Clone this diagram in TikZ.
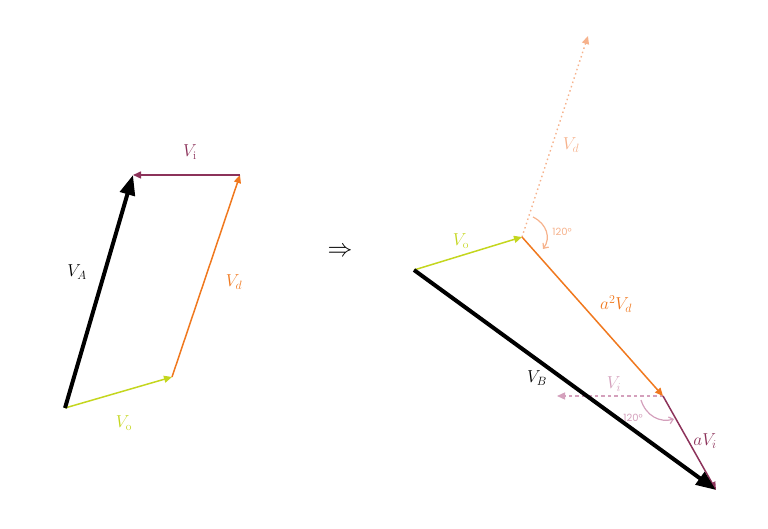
\documentclass[tikz,border=0pt]{standalone}
\usepackage{fontspec}
\newfontfamily\numfont{Poppins}
\usetikzlibrary{arrows.meta}
\definecolor{cgreen}{RGB}{196,214,30}
\definecolor{corange}{RGB}{240,120,30}
\definecolor{cpurple}{RGB}{140,50,90}
\definecolor{clorange}{RGB}{246,178,140}
\definecolor{clpurple}{RGB}{212,160,188}
\tikzset{
  thickvec/.style={line width=4pt,-{Triangle[length=20pt,width=15pt]}},
  thinvec/.style={line width=1.5pt,-{Triangle[length=8pt,width=7pt]}},
  lbl/.style={font=\fontsize{16.5}{18}\selectfont},
  anglbl/.style={font=\numfont\fontsize{10}{11}\selectfont},
}
\begin{document}
\begin{tikzpicture}[x=1pt,y=-1pt]
\useasboundingbox (0,0) rectangle (768,529);
% left diagram
\coordinate (O1) at (65,408);
\coordinate (P1) at (172,377);
\coordinate (Q1) at (240,175);
\coordinate (R1) at (133,175);
\draw[thinvec,cgreen] (O1) -- (P1);
\draw[thinvec,corange] (P1) -- (Q1);
\draw[thinvec,cpurple] (Q1) -- (R1);
\draw[thickvec,black] (O1) -- (R1);
\node[lbl,cpurple] (li1) at (190,152) {$V_{\mathrm{i}}$};
\node[lbl,black] (la) at (77,272) {$V_A$};
\node[lbl,corange] (ld1) at (234,282) {$V_d$};
\node[lbl,cgreen] (lo1) at (124,423) {$V_{\mathrm{o}}$};
% implies
\node[font=\fontsize{28}{30}\selectfont] (imp) at (340,252) {$\Rightarrow$};
% right diagram
\coordinate (O2) at (414,270);
\coordinate (P2) at (522,237);
\coordinate (D2) at (588,36);
\coordinate (Q2) at (663,396);
\coordinate (I2) at (557,396);
\coordinate (R2) at (716,490);
\draw[line width=1.4pt,clorange,dash pattern=on 1.5pt off 3pt,-{Triangle[length=8pt,width=7pt]}] (P2) -- (D2);
\draw[line width=1.3pt,clpurple,dash pattern=on 3.5pt off 3pt,-{Triangle[length=8pt,width=7pt]}] (Q2) -- (I2);
\draw[thinvec,cgreen] (O2) -- (P2);
\draw[thinvec,corange] (P2) -- (Q2);
\draw[thinvec,cpurple] (Q2) -- (R2);
\draw[thickvec,black] (O2) -- (R2);
\node[lbl,clorange] (ld2) at (571,145) {$V_d$};
\node[lbl,cgreen] (lo2) at (461,241) {$V_{\mathrm{o}}$};
\node[lbl,corange] (la2) at (616,304) {$a^2V_d$};
\node[lbl,black] (lb) at (537,378) {$V_B$};
\node[lbl,clpurple] (li2) at (614,384) {$V_i$};
\node[lbl,cpurple] (lai) at (705,441) {$aV_i$};
% angle arcs
\coordinate (a1s) at (533,217);
\coordinate (a1e) at (543,249);
\draw[clorange,line width=1.2pt,-{Straight Barb[length=4pt,width=7pt]}] (a1s) .. controls (547,224) and (551,238) .. (a1e);
\node[anglbl,clorange] (ang1) at (562,232) {120°};
\coordinate (a2s) at (641,400);
\coordinate (a2e) at (674,419);
\draw[clpurple,line width=1.2pt,-{Straight Barb[length=4pt,width=7pt]}] (a2s) .. controls (646,416) and (660,423) .. (a2e);
\node[anglbl,clpurple] (ang2) at (633,418) {120°};
\end{tikzpicture}
\end{document}
